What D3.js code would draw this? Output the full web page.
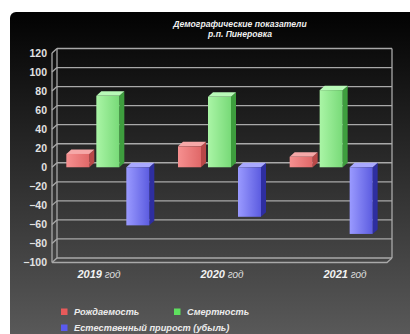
<!DOCTYPE html>
<html>
<head>
<meta charset="utf-8">
<script src="https://cdn.jsdelivr.net/npm/d3@7"></script>
<style>
  html, body { margin: 0; padding: 0; background: #ffffff; }
  svg { display: block; }
  text { font-family: "Liberation Sans", Arial, sans-serif; }
</style>
</head>
<body>
<svg id="chart" width="410" height="334"></svg>
<script>
// Demographic indicators by year
const years = ["2019", "2020", "2021"];
const births = [14, 22, 11];
const deaths = [75, 74, 81];
const naturalGrowth = [-61, -52, -70];
const seriesNames = ["Рождаемость", "Смертность", "Естественный прирост (убыль)"];
const yTicks = [-100, -80, -60, -40, -20, 0, 20, 40, 60, 80, 100, 120];
const titleLines = ["Демографические показатели", "р.п. Пинеровка"];

const W = 410, H = 334;
const svg = d3.select("#chart");
const defs = svg.append("defs");

// background panel gradient
const bg = defs.append("linearGradient").attr("id", "bg")
  .attr("x1", 0).attr("y1", 0).attr("x2", 0).attr("y2", 1);
bg.append("stop").attr("offset", 0).attr("stop-color", "#020202");
bg.append("stop").attr("offset", 1).attr("stop-color", "#5c5c5c");

svg.append("rect").attr("x", 10).attr("y", 12).attr("width", W + 20).attr("height", H)
  .attr("rx", 6).attr("fill", "url(#bg)");

// 3D depth offset of the back wall
const DX = 5, DY = -4.5;

const y = d3.scaleLinear().domain([-100, 120]).range([262.5, 53]);
const x0 = d3.scaleBand().domain(years).range([52, 387]);
const series = ["births", "deaths", "growth"];
const x1 = d3.scaleBand().domain(series).range([-41.5, 41.5]).paddingInner(7 / 30);

const colors = {
  births: { front: ["#f69090", "#e06868"], top: "#f6a8a8", side: "#b84848" },
  deaths: { front: ["#aaf5a6", "#78da78"], top: "#b8fab8", side: "#3e9e3e" },
  growth: { front: ["#9a9aff", "#5c5ce0"], top: "#a8a8ff", side: "#2e2ea0" }
};
series.forEach(s => {
  const g = defs.append("linearGradient").attr("id", "g-" + s)
    .attr("x1", 0).attr("y1", 0).attr("x2", 1).attr("y2", 0);
  g.append("stop").attr("offset", 0).attr("stop-color", colors[s].front[0]);
  g.append("stop").attr("offset", 1).attr("stop-color", colors[s].front[1]);
});

const grid = svg.append("g").attr("stroke", "#a9a9a9").attr("stroke-width", 1.3).attr("fill", "none");
const left = x0.range()[0], right = x0.range()[1];

// back wall gridlines and left wall edges
yTicks.forEach(v => {
  grid.append("line").attr("x1", left + DX).attr("x2", right + DX)
    .attr("y1", y(v) + DY).attr("y2", y(v) + DY);
  grid.append("line").attr("x1", left).attr("x2", left + DX)
    .attr("y1", y(v)).attr("y2", y(v) + DY);
});
grid.append("line").attr("x1", left).attr("x2", left)
  .attr("y1", y(120)).attr("y2", y(-100));
grid.append("line").attr("x1", left + DX).attr("x2", left + DX)
  .attr("y1", y(120) + DY).attr("y2", y(-100) + DY);
grid.append("line").attr("x1", right + DX).attr("x2", right + DX)
  .attr("y1", y(120) + DY).attr("y2", y(-100) + DY);
// floor front edge
grid.append("path").attr("d",
  `M${left},${y(-100)}L${right},${y(-100)}L${right + DX},${y(-100) + DY}`);

// y axis labels
const yAxis = svg.append("g").attr("transform", `translate(${left},0)`)
  .call(d3.axisLeft(y).tickValues(yTicks).tickSize(0).tickPadding(5).tickFormat(d3.format("d")));
yAxis.select(".domain").remove();
yAxis.selectAll("text").attr("fill", "#e2e2e2").attr("font-size", 10.5)
  .attr("font-weight", "bold").attr("font-family", "'Liberation Sans', Arial, sans-serif");

// bars as 3D boxes
const rows = years.map((yr, i) => ({
  year: yr,
  values: [
    { key: "births", v: births[i] },
    { key: "deaths", v: deaths[i] },
    { key: "growth", v: naturalGrowth[i] }
  ]
}));

const bars = svg.append("g");
rows.forEach(r => {
  const cx = x0(r.year) + x0.bandwidth() / 2;
  r.values.forEach(d => {
    const xa = cx + x1(d.key), xb = xa + x1.bandwidth();
    const yt = y(Math.max(d.v, 0)), yb = y(Math.min(d.v, 0));
    const c = colors[d.key];
    bars.append("path")
      .attr("d", `M${xb},${yt}L${xb + DX},${yt + DY}L${xb + DX},${yb + DY}L${xb},${yb}Z`)
      .attr("fill", c.side);
    bars.append("path")
      .attr("d", `M${xa},${yt}L${xa + DX},${yt + DY}L${xb + DX},${yt + DY}L${xb},${yt}Z`)
      .attr("fill", c.top);
    bars.append("rect").attr("x", xa).attr("y", yt)
      .attr("width", xb - xa).attr("height", yb - yt)
      .attr("fill", `url(#g-${d.key})`);
  });
});

// category labels
const xLabel = d3.scalePoint().domain(years).range([99, 345]);
const cat = svg.append("g");
years.forEach(yr => {
  const t = cat.append("text").attr("x", xLabel(yr)).attr("y", 277.5)
    .attr("text-anchor", "middle").attr("fill", "#f2f2f2").attr("font-style", "italic");
  t.append("tspan").attr("font-weight", "bold").attr("font-size", 11).text(yr);
  t.append("tspan").attr("font-size", 10).attr("fill", "#dddddd").text(" год");
});

// title
svg.append("g").selectAll("text").data(titleLines).join("text")
  .attr("x", 240).attr("y", (d, i) => 26.5 + i * 10.5)
  .attr("text-anchor", "middle").attr("fill", "#f0f0f0")
  .attr("font-size", 8.6).attr("font-weight", "bold").attr("font-style", "italic")
  .text(d => d);

// legend
const legendItems = [
  { name: seriesNames[0], key: "births", x: 61, y: 315 },
  { name: seriesNames[1], key: "deaths", x: 174, y: 315 },
  { name: seriesNames[2], key: "growth", x: 61, y: 331 }
];
const legendSwatch = { births: "#e85a5a", deaths: "#5ee05e", growth: "#5a5aee" };
const lg = svg.append("g");
legendItems.forEach(it => {
  lg.append("rect").attr("x", it.x).attr("y", it.y - 6.5).attr("width", 6.5).attr("height", 6.5)
    .attr("fill", legendSwatch[it.key]);
  lg.append("text").attr("x", it.x + 13).attr("y", it.y)
    .attr("fill", "#ececec").attr("font-size", 9.2).attr("font-weight", "bold")
    .attr("font-style", "italic").text(it.name);
});
</script>
</body>
</html>
